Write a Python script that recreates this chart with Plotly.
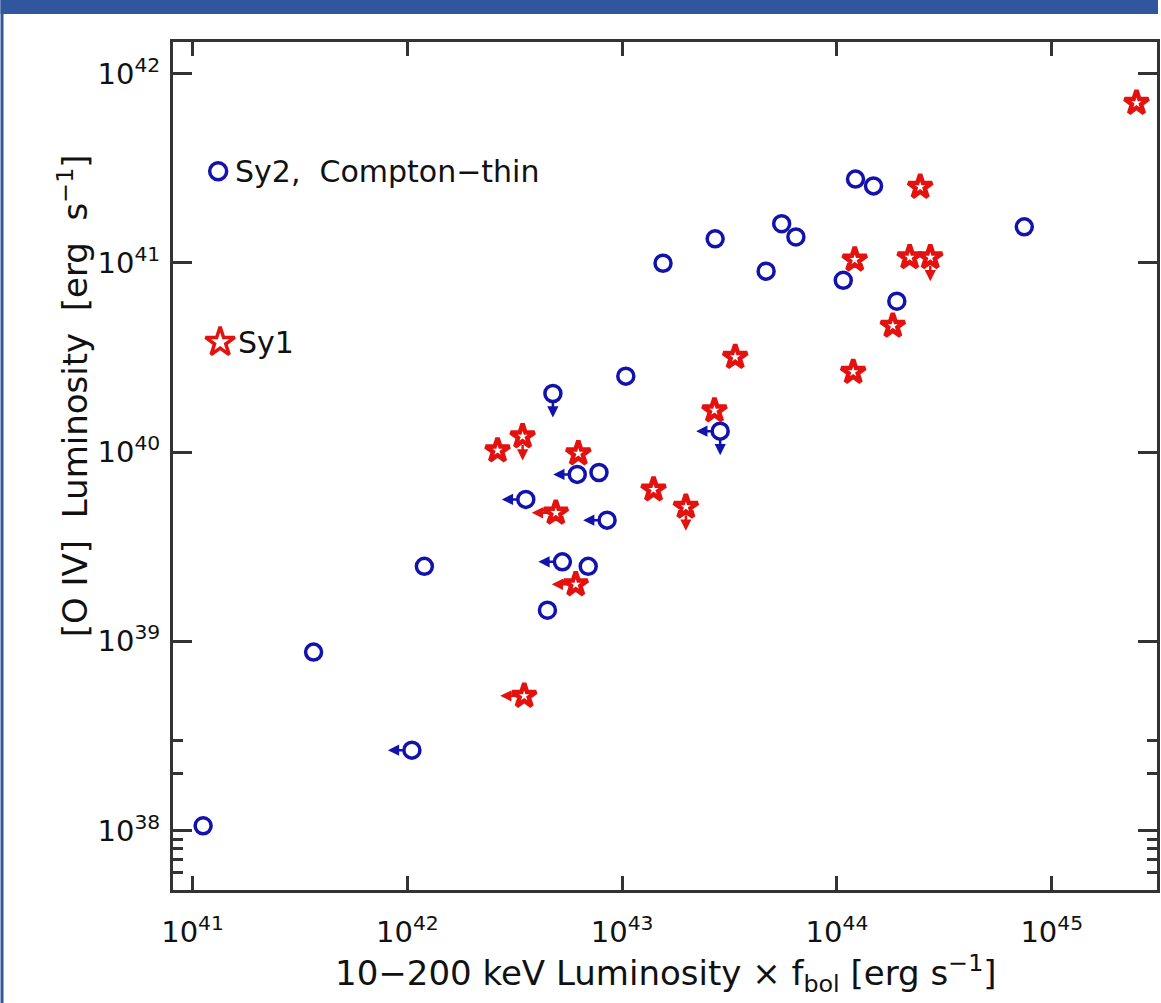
import numpy as np
import plotly.graph_objects as go

# Sy2 (Compton-thin): 10-200 keV luminosity x f_bol and [O IV] luminosity, erg/s
sy2_lx = [1.12e41, 3.66e41, 1.05e42, 1.20e42, 4.49e42, 4.76e42, 3.56e42, 6.18e42,
          7.80e42, 8.51e42, 5.27e42, 6.95e42, 1.04e43, 2.86e43, 1.55e43, 2.71e43,
          5.53e43, 6.44e43, 4.68e43, 1.22e44, 1.48e44, 1.07e44, 1.90e44, 7.45e44]
sy2_loiv = [1.06e38, 8.77e38, 2.66e38, 2.49e39, 1.46e39, 2.04e40, 5.62e39, 7.62e39,
            7.80e39, 4.37e39, 2.63e39, 2.49e39, 2.52e40, 1.29e40, 9.95e40, 1.34e41,
            1.61e41, 1.37e41, 9.04e40, 2.77e41, 2.55e41, 8.09e40, 6.27e40, 1.55e41]
sy2_xlim = [0, 0, 1, 0, 0, 0, 1, 1, 0, 1, 1, 0, 0, 1, 0, 0, 0, 0, 0, 0, 0, 0, 0, 0]
sy2_ylim = [0, 0, 0, 0, 0, 1, 0, 0, 0, 0, 0, 0, 0, 1, 0, 0, 0, 0, 0, 0, 0, 0, 0, 0]

# Sy1
sy1_lx = [2.48e45, 2.44e44, 1.21e44, 2.18e44, 2.72e44, 1.82e44, 3.36e43, 1.19e44,
          2.69e43, 2.63e42, 3.44e42, 6.25e42, 1.40e43, 1.98e43, 4.91e42, 6.08e42,
          3.50e42]
sy1_loiv = [7.00e41, 2.52e41, 1.04e41, 1.07e41, 1.07e41, 4.65e40, 3.18e40, 2.65e40,
            1.66e40, 1.02e40, 1.21e40, 9.84e39, 6.34e39, 5.14e39, 4.78e39, 2.00e39,
            5.15e38]
sy1_xlim = [0, 0, 0, 0, 0, 0, 0, 0, 0, 0, 0, 0, 0, 0, 1, 1, 1]
sy1_ylim = [0, 0, 0, 0, 1, 0, 0, 0, 0, 0, 1, 0, 0, 1, 0, 0, 0]

x_ticks = [1e41, 1e42, 1e43, 1e44, 1e45]
y_ticks = [1e38, 1e39, 1e40, 1e41, 1e42]
y_minor = [6e37, 7e37, 8e37, 9e37, 2e38, 3e38]

BLUE = "#1212ac"
RED = "#e3120f"
AXIS = "#333333"
FONT = "DejaVu Sans"
TXT = "#111111"


def sci(v):
    return "10<sup>%d</sup>" % round(np.log10(v))


fig = go.Figure()

fig.add_trace(go.Scatter(
    x=sy2_lx, y=sy2_loiv, mode="markers", name="Sy2, Compton\u2212thin",
    marker=dict(symbol="circle-open", size=16, color=BLUE, line=dict(width=3.5, color=BLUE)),
))
fig.add_trace(go.Scatter(
    x=sy1_lx, y=sy1_loiv, mode="markers", name="Sy1",
    marker=dict(symbol="star-open", size=18, color=RED, line=dict(width=4.5, color=RED)),
))

# upper-limit arrows
ARR = 24
annotations = []
for xs, ys, xl, yl, col in [(sy2_lx, sy2_loiv, sy2_xlim, sy2_ylim, BLUE),
                            (sy1_lx, sy1_loiv, sy1_xlim, sy1_ylim, RED)]:
    for xv, yv, fx, fy in zip(xs, ys, xl, yl):
        common = dict(x=np.log10(xv), y=np.log10(yv), xref="x", yref="y", text="",
                      showarrow=True, arrowhead=2, arrowsize=0.9, arrowwidth=2.5,
                      arrowcolor=col, startstandoff=7, standoff=0)
        if fx:
            annotations.append(dict(common, ax=ARR, ay=0, axref="pixel", ayref="pixel", xshift=-ARR))
        if fy:
            annotations.append(dict(common, ax=0, ay=-ARR, axref="pixel", ayref="pixel", yshift=-ARR))

# legend key labels
annotations += [
    dict(x=0.0605, y=0.8476, xref="paper", yref="paper", text="Sy2,  Compton\u2212thin",
         showarrow=False, xanchor="left", yanchor="middle", font=dict(family=FONT, size=30, color=TXT)),
    dict(x=0.064, y=0.646, xref="paper", yref="paper", text="Sy1",
         showarrow=False, xanchor="left", yanchor="middle", font=dict(family=FONT, size=30, color=TXT)),
    # axis titles
    dict(x=0.5015, y=-0.098, xref="paper", yref="paper",
         text="10\u2212200 keV Luminosity \u00d7 f<sub>bol</sub> [erg s<sup>\u22121</sup>]",
         showarrow=False, xanchor="center", yanchor="middle", font=dict(family=FONT, size=34, color=TXT)),
    dict(x=-0.102, y=0.583, xref="paper", yref="paper", textangle=-90,
         text="[O IV]  Luminosity  [erg  s<sup>\u22121</sup>]",
         showarrow=False, xanchor="center", yanchor="middle", font=dict(family=FONT, size=34, color=TXT)),
]

# legend key symbols on an overlay axis spanning the plot area
fig.add_trace(go.Scatter(x=[0.0459], y=[0.8476], xaxis="x2", yaxis="y2", mode="markers",
                         showlegend=False, hoverinfo="skip",
                         marker=dict(symbol="circle-open", size=17, color=BLUE, line=dict(width=3.5, color=BLUE))))
fig.add_trace(go.Scatter(x=[0.0479], y=[0.646], xaxis="x2", yaxis="y2", mode="markers",
                         showlegend=False, hoverinfo="skip",
                         marker=dict(symbol="star-open", size=22, color=RED, line=dict(width=3.5, color=RED))))

axis_common = dict(type="log", showline=True, linecolor=AXIS, linewidth=3, mirror="allticks",
                   ticks="inside", tickcolor=AXIS, tickwidth=2.5, showgrid=False, zeroline=False,
                   tickfont=dict(family=FONT, size=29, color=TXT))

fig.update_layout(
    width=1161, height=1003,
    margin=dict(l=173, r=1, t=42, b=113),
    paper_bgcolor="white", plot_bgcolor="white",
    showlegend=False,
    xaxis=dict(axis_common, range=[40.909, 45.49], tickmode="array", tickvals=x_ticks,
               ticktext=[sci(v) for v in x_ticks], ticklen=14, ticklabelstandoff=14),
    yaxis=dict(axis_common, range=[37.686, 42.167], tickmode="array", tickvals=y_ticks,
               ticktext=[sci(v) for v in y_ticks], ticklen=19, ticklabelstandoff=4,
               minor=dict(tickmode="array", tickvals=y_minor, ticks="inside", ticklen=10,
                          tickcolor=AXIS, tickwidth=2.5)),
    xaxis2=dict(overlaying="x", range=[0, 1], visible=False),
    yaxis2=dict(overlaying="y", range=[0, 1], visible=False),
    annotations=annotations,
    shapes=[
        # page frame
        dict(type="rect", xref="paper", yref="paper", x0=-173 / 987, x1=988 / 987,
             y0=(848.3 + 28) / 848.3, y1=(848.3 + 42) / 848.3,
             fillcolor="#30569d", line=dict(width=0), layer="above"),
        dict(type="rect", xref="paper", yref="paper", x0=-173 / 987, x1=-170 / 987,
             y0=-113 / 848.3, y1=(848.3 + 42) / 848.3,
             fillcolor="#30569d", line=dict(width=0), layer="above"),
    ],
)

fig.write_html("out.html")
